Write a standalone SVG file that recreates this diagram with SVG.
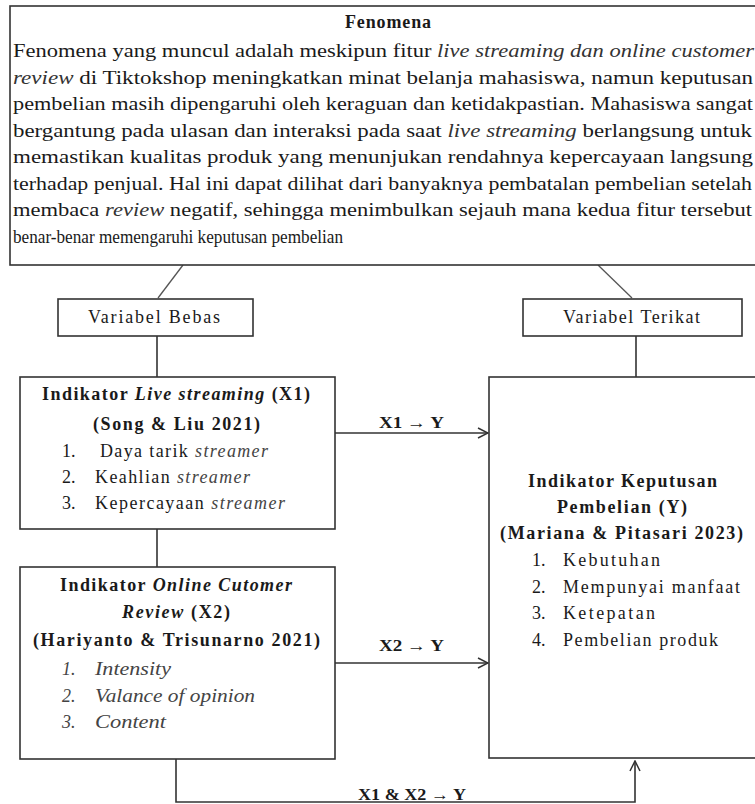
<svg xmlns="http://www.w3.org/2000/svg" width="755" height="804" viewBox="0 0 755 804">
<defs>
<style>
text{font-family:"Liberation Serif","Times New Roman",serif;font-size:18px;fill:#1a1a1a}
.b{font-weight:bold;font-size:18px}
.i{font-style:italic}
.g{fill:#444;font-style:italic}
.lb{font-weight:bold;font-size:16px}
.box{fill:#fff;stroke:#333;stroke-width:1.6}
.ln{fill:none;stroke:#333;stroke-width:1.6}
.dg{fill:none;stroke:#555;stroke-width:1.3}
</style>
<marker id="ah" viewBox="0 0 12 12" refX="11" refY="6" markerWidth="12" markerHeight="12" markerUnits="userSpaceOnUse" orient="auto">
<path d="M1,1 L11,6 L1,11" fill="none" stroke="#333" stroke-width="1.5"/>
</marker>
</defs>
<rect width="755" height="804" fill="#fff"/>

<g id="connectors">
<line class="dg" x1="183" y1="265" x2="158" y2="298"/>
<line class="dg" x1="598" y1="265" x2="632" y2="298"/>
<line class="ln" x1="157" y1="336" x2="157" y2="377"/>
<line class="ln" x1="636" y1="336" x2="636" y2="377"/>
<line class="ln" x1="157" y1="529" x2="157" y2="567"/>
<line class="ln" x1="335" y1="433" x2="488" y2="433" marker-end="url(#ah)"/>
<line class="ln" x1="335" y1="663" x2="488" y2="663" marker-end="url(#ah)"/>
<polyline class="ln" points="176,759 176,802 635,802 635,761" marker-end="url(#ah)"/>
<text class="lb" x="379" y="428" textLength="65" lengthAdjust="spacingAndGlyphs">X1 → Y</text>
<text class="lb" x="379" y="651" textLength="65" lengthAdjust="spacingAndGlyphs">X2 → Y</text>
<text class="lb" x="358" y="800" textLength="108" lengthAdjust="spacingAndGlyphs">X1 &amp; X2 → Y</text>
</g>

<g id="fenomena">
<rect class="box" x="10" y="6" width="760" height="259"/>
<text class="b" x="345" y="28" textLength="86" lengthAdjust="spacing">Fenomena</text>
<text x="13" y="57" textLength="741" lengthAdjust="spacingAndGlyphs">Fenomena yang muncul adalah meskipun fitur <tspan class="i" fill="#333">live streaming dan online customer</tspan></text>
<text x="13" y="84" textLength="740" lengthAdjust="spacingAndGlyphs"><tspan class="i" fill="#333">review</tspan> di Tiktokshop meningkatkan minat belanja mahasiswa, namun keputusan</text>
<text x="13" y="110" textLength="740" lengthAdjust="spacingAndGlyphs">pembelian masih dipengaruhi oleh keraguan dan ketidakpastian. Mahasiswa sangat</text>
<text x="13" y="137" textLength="739" lengthAdjust="spacingAndGlyphs">bergantung pada ulasan dan interaksi pada saat <tspan class="i" fill="#333">live streaming</tspan> berlangsung untuk</text>
<text x="13" y="163" textLength="740" lengthAdjust="spacingAndGlyphs">memastikan kualitas produk yang menunjukan rendahnya kepercayaan langsung</text>
<text x="13" y="190" textLength="739" lengthAdjust="spacingAndGlyphs">terhadap penjual. Hal ini dapat dilihat dari banyaknya pembatalan pembelian setelah</text>
<text x="13" y="216" textLength="739" lengthAdjust="spacingAndGlyphs">membaca <tspan class="i" fill="#333">review</tspan> negatif, sehingga menimbulkan sejauh mana kedua fitur tersebut</text>
<text x="13" y="243" textLength="330" lengthAdjust="spacingAndGlyphs">benar-benar memengaruhi keputusan pembelian</text>
</g>

<g id="variabel-bebas">
<rect class="box" x="58" y="299" width="195" height="37"/>
<text x="88" y="323" textLength="132" lengthAdjust="spacing">Variabel Bebas</text>
</g>

<g id="variabel-terikat">
<rect class="box" x="523" y="299" width="219" height="37"/>
<text x="563" y="323" textLength="137" lengthAdjust="spacing">Variabel Terikat</text>
</g>

<g id="x1">
<rect class="box" x="20" y="377" width="315" height="152"/>
<text class="b" x="42" y="400" textLength="268" lengthAdjust="spacing">Indikator <tspan class="i">Live streaming</tspan> (X1)</text>
<text class="b" x="93" y="430" textLength="167" lengthAdjust="spacing">(Song &amp; Liu 2021)</text>
<text x="62" y="457">1.</text><text x="100" y="457" textLength="168" lengthAdjust="spacing">Daya tarik <tspan class="g">streamer</tspan></text>
<text x="62" y="483">2.</text><text x="95" y="483" textLength="155" lengthAdjust="spacing">Keahlian <tspan class="g">streamer</tspan></text>
<text x="62" y="509">3.</text><text x="95" y="509" textLength="190" lengthAdjust="spacing">Kepercayaan <tspan class="g">streamer</tspan></text>
</g>

<g id="x2">
<rect class="box" x="20" y="567" width="315" height="192"/>
<text class="b" x="60" y="591" textLength="232" lengthAdjust="spacing">Indikator <tspan class="i">Online Cutomer</tspan></text>
<text class="b" x="122" y="618" textLength="108" lengthAdjust="spacing"><tspan class="i">Review</tspan> (X2)</text>
<text class="b" x="33" y="646" textLength="287" lengthAdjust="spacing">(Hariyanto &amp; Trisunarno 2021)</text>
<text class="g" x="62" y="675">1.</text><text class="g" x="95" y="675" textLength="76" lengthAdjust="spacingAndGlyphs">Intensity</text>
<text class="g" x="62" y="702">2.</text><text class="g" x="95" y="702" textLength="160" lengthAdjust="spacingAndGlyphs">Valance of opinion</text>
<text class="g" x="62" y="728">3.</text><text class="g" x="95" y="728" textLength="71" lengthAdjust="spacingAndGlyphs">Content</text>
</g>

<g id="y">
<rect class="box" x="489" y="377" width="280" height="381"/>
<text class="b" x="528" y="487" textLength="189" lengthAdjust="spacing">Indikator Keputusan</text>
<text class="b" x="557" y="513" textLength="130" lengthAdjust="spacing">Pembelian (Y)</text>
<text class="b" x="500" y="539" textLength="243" lengthAdjust="spacing">(Mariana &amp; Pitasari 2023)</text>
<text x="532" y="566">1.</text><text x="563" y="566" textLength="97" lengthAdjust="spacing">Kebutuhan</text>
<text x="532" y="593">2.</text><text x="563" y="593" textLength="177" lengthAdjust="spacing">Mempunyai manfaat</text>
<text x="532" y="619">3.</text><text x="563" y="619" textLength="92" lengthAdjust="spacing">Ketepatan</text>
<text x="532" y="646">4.</text><text x="563" y="646" textLength="155" lengthAdjust="spacing">Pembelian produk</text>
</g>
</svg>
